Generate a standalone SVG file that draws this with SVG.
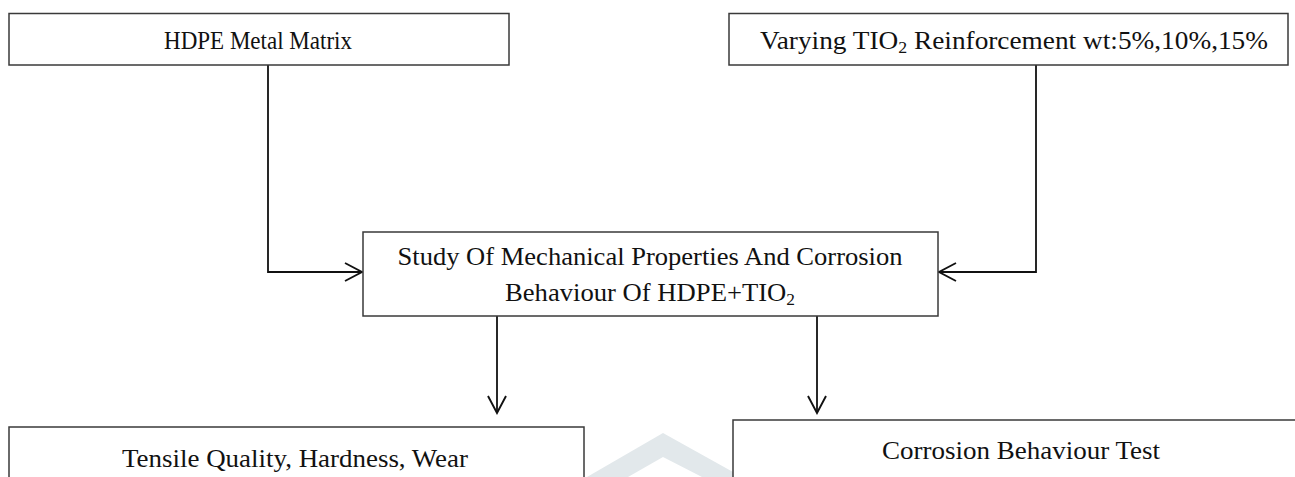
<svg xmlns="http://www.w3.org/2000/svg" width="1295" height="477" viewBox="0 0 1295 477">
<style>
.box{fill:#fff;stroke:#3a3a3a;stroke-width:1.5}
.t{font-family:"Liberation Serif","Times New Roman",serif;font-size:26px;fill:#111;text-anchor:middle}
.sub{font-size:17px}
.c{fill:none;stroke:#111;stroke-width:1.8}
</style>
<defs>
<marker id="ah" viewBox="0 0 22 22" refX="20" refY="11" markerWidth="22" markerHeight="22" markerUnits="userSpaceOnUse" orient="auto">
<path d="M3,2 L20,11 L3,20" fill="none" stroke="#111" stroke-width="1.9"/>
</marker>
</defs>
<rect width="1295" height="477" fill="#fff"/>
<polygon id="watermark" points="587,477 663,433 742,477 702,477 663,457 628,477" fill="#e2e8eb"/>
<g id="connectors">
<polyline class="c" points="268,65 268,272 362,272" marker-end="url(#ah)"/>
<polyline class="c" points="1036,65 1036,272 939,272" marker-end="url(#ah)"/>
<line class="c" x1="497" y1="316" x2="497" y2="413" marker-end="url(#ah)"/>
<line class="c" x1="817" y1="316" x2="817" y2="413" marker-end="url(#ah)"/>
</g>
<g id="node-hdpe">
<rect class="box" x="9" y="13.5" width="500" height="51.5"/>
<text class="t" x="258" y="49" textLength="188" lengthAdjust="spacingAndGlyphs">HDPE Metal Matrix</text>
</g>
<g id="node-tio2">
<rect class="box" x="729" y="13.5" width="559" height="51.5"/>
<text class="t" x="1014" y="49" textLength="508" lengthAdjust="spacingAndGlyphs">Varying TIO<tspan class="sub" dy="4">2</tspan><tspan dy="-4"> Reinforcement wt:5%,10%,15%</tspan></text>
</g>
<g id="node-study">
<rect class="box" x="363" y="232" width="575" height="84"/>
<text class="t" x="650" y="265" textLength="505" lengthAdjust="spacingAndGlyphs">Study Of Mechanical Properties And Corrosion</text>
<text class="t" x="650" y="301" textLength="290" lengthAdjust="spacingAndGlyphs">Behaviour Of HDPE+TIO<tspan class="sub" dy="4">2</tspan></text>
</g>
<g id="node-tensile">
<rect class="box" x="9" y="427" width="575" height="60"/>
<text class="t" x="295" y="467" textLength="346" lengthAdjust="spacingAndGlyphs">Tensile Quality, Hardness, Wear</text>
</g>
<g id="node-corrosion">
<rect class="box" x="733" y="420" width="570" height="70"/>
<text class="t" x="1021" y="459" textLength="278" lengthAdjust="spacingAndGlyphs">Corrosion Behaviour Test</text>
</g>
</svg>
